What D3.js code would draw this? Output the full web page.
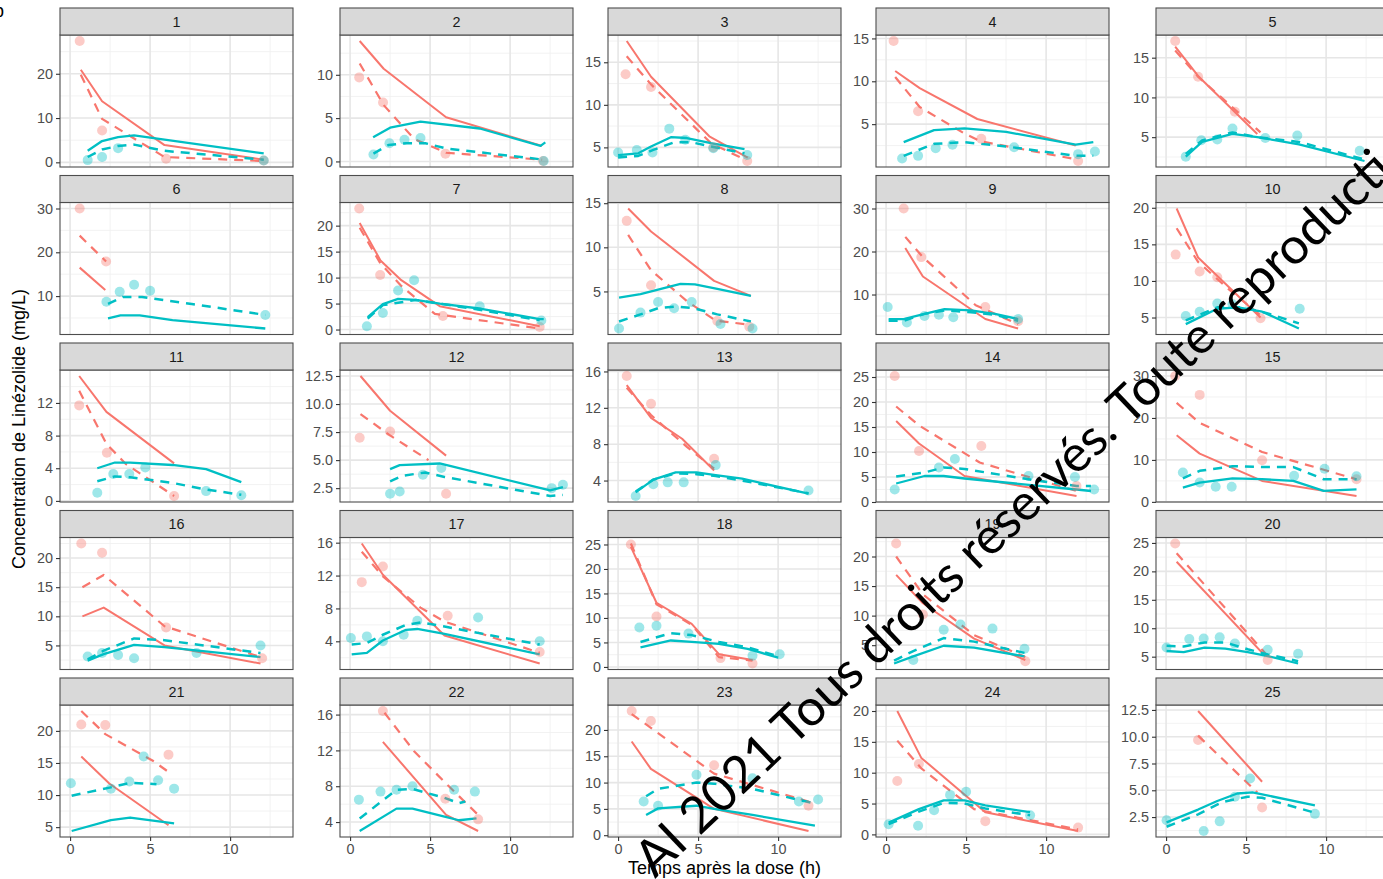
<!DOCTYPE html>
<html>
<head>
<meta charset="utf-8">
<script src="https://cdn.jsdelivr.net/npm/d3@7"></script>
<style>
  body { margin: 0; background: #fff; overflow: hidden; }
  svg { display: block; }
</style>
</head>
<body>
<svg id="chart" width="1383" height="879"></svg>
<script>
// Patient panels 1..25
const panelIds = d3.range(1, 26);

// Y tick labels per panel (free y scales)
const yTicks = [
  [0, 10, 20], [0, 5, 10], [5, 10, 15], [5, 10, 15], [5, 10, 15],
  [10, 20, 30], [0, 5, 10, 15, 20], [5, 10, 15], [10, 20, 30], [5, 10, 15, 20],
  [0, 4, 8, 12], [2.5, 5.0, 7.5, 10.0, 12.5], [4, 8, 12, 16], [0, 5, 10, 15, 20, 25], [0, 10, 20, 30],
  [5, 10, 15, 20], [4, 8, 12, 16], [0, 5, 10, 15, 20, 25], [5, 10, 15, 20], [5, 10, 15, 20, 25],
  [5, 10, 15, 20], [4, 8, 12, 16], [0, 5, 10, 15, 20], [0, 5, 10, 15, 20], [2.5, 5.0, 7.5, 10.0, 12.5]
];

// Shared time axis ticks (h)
const xTicks = [0, 5, 10];
const xDomain = [-0.63, 13.93];

// Series A (red): observed concentrations [time, mg/L]
const obsA = [
  [[0.6,27.4],[2.0,7.2],[6.0,0.8],[12.1,0.4]],
  [[0.57,9.7],[2.06,6.8],[5.96,0.9],[12.06,0.05]],
  [[0.47,13.6],[2.06,12.1],[5.95,5.0],[8.07,3.4]],
  [[0.47,14.7],[2.0,6.5],[5.95,3.3],[12.0,0.7]],
  [[0.57,17.1],[2.0,12.6],[4.3,8.2]],
  [[0.6,30.0],[2.25,17.9]],
  [[0.57,23.3],[1.88,10.5],[5.8,2.6],[11.85,0.5]],
  [[0.54,13.0],[2.06,5.7],[6.2,1.65],[8.2,1.0]],
  [[1.1,30.0],[2.2,18.7],[6.2,7.1],[8.25,3.8]],
  [[0.6,13.6],[2.1,11.3],[3.2,10.5],[5.9,4.9]],
  [[0.57,11.7],[2.3,5.9],[6.5,0.6]],
  [[0.6,7.0],[2.5,7.55],[6.0,2.0]],
  [[0.54,15.5],[2.06,12.45],[6.0,6.4]],
  [[0.54,25.2],[2.06,10.2],[5.95,11.2],[11.9,3.2]],
  [[0.57,30.0],[2.1,25.5],[6.0,9.9],[11.9,5.4]],
  [[0.7,22.5],[2.0,20.9],[6.0,8.1],[12.0,2.8]],
  [[0.73,11.2],[2.05,13.1],[6.1,7.1],[11.85,2.7]],
  [[0.8,25.0],[2.4,10.3],[6.4,1.8],[8.4,0.7]],
  [[0.63,22.2],[2.3,10.2],[8.7,2.3]],
  [[0.57,24.9],[6.35,4.4]],
  [[0.7,21.0],[2.2,20.9],[6.15,16.3]],
  [[2.05,16.4],[5.95,6.6],[8.0,4.3]],
  [[0.85,23.6],[2.05,21.7],[6.0,13.3],[11.9,5.6]],
  [[0.7,8.65],[2.05,11.4],[6.2,2.15],[12.0,1.1]],
  [[2.0,9.7],[6.0,3.4]]
];

// Series A (red): solid model curve
const fitA = [
  [[0.67,20.9],[2.0,13.8],[5.9,3.9],[12.1,0.6]],
  [[0.6,13.9],[2.1,10.7],[6.0,5.1],[12.0,1.8]],
  [[0.54,17.5],[2.06,13.3],[5.7,6.3],[8.1,3.8]],
  [[0.57,11.2],[2.1,9.2],[5.7,5.6],[11.85,2.5]],
  [[0.57,16.4],[2.0,12.7],[5.7,5.4]],
  [[0.6,16.5],[2.2,11.4]],
  [[0.6,20.5],[1.9,13.3],[3.2,9.5],[5.6,4.5],[11.85,0.65]],
  [[0.63,14.4],[2.06,11.8],[6.0,6.2],[8.3,4.5]],
  [[1.2,20.8],[2.3,14.2],[6.2,4.3],[8.25,2.1]],
  [[0.66,19.9],[2.0,13.2],[4.0,9.0],[5.9,5.0]],
  [[0.57,15.3],[2.27,10.9],[6.5,4.6]],
  [[0.65,12.5],[2.5,9.4],[6.0,5.4]],
  [[0.54,14.5],[2.06,10.9],[4.0,8.6],[6.0,5.1]],
  [[0.63,16.2],[2.06,11.7],[4.9,5.2],[11.9,1.2]],
  [[0.66,15.9],[2.1,11.5],[6.0,5.0],[11.9,1.4]],
  [[0.77,10.0],[2.1,11.5],[5.9,5.0],[11.9,1.9]],
  [[0.73,15.9],[2.05,12.1],[5.9,4.7],[11.85,1.3]],
  [[0.8,24.5],[2.4,13.1],[4.6,8.8],[6.3,2.6],[8.4,1.4]],
  [[0.63,16.9],[2.3,12.1],[5.5,6.1],[8.7,2.5]],
  [[0.66,21.7],[6.2,5.1]],
  [[0.7,16.0],[2.45,11.8],[6.15,5.3]],
  [[2.05,12.95],[6.0,4.8],[8.0,3.0]],
  [[0.85,17.8],[2.05,12.6],[4.6,7.7],[6.0,5.0],[11.9,0.8]],
  [[0.7,20.0],[2.2,12.4],[6.2,3.6],[12.0,0.55]],
  [[2.0,12.4],[6.0,5.8]]
];

// Series A (red): dashed model curve
const fitA2 = [
  [[0.67,19.8],[2.0,9.8],[5.9,1.2],[12.1,0.3]],
  [[0.6,11.3],[2.1,6.5],[4.0,2.6],[6.0,1.0],[12.0,0.2]],
  [[0.54,15.7],[2.06,12.4],[5.8,5.5],[8.0,3.5]],
  [[0.57,10.5],[2.1,7.0],[4.9,3.9],[5.9,3.0],[11.85,0.9]],
  [[0.57,15.9],[2.0,12.6],[5.9,5.6]],
  [[0.6,23.8],[2.25,17.9]],
  [[0.6,19.6],[1.9,12.7],[3.2,8.4],[5.3,3.0],[11.85,0.2]],
  [[0.63,11.4],[2.06,7.4],[4.3,3.9],[6.1,1.7],[8.3,1.2]],
  [[1.2,23.4],[2.3,18.7],[5.6,7.5],[8.25,3.1]],
  [[0.66,17.2],[2.0,12.6],[4.0,8.7],[5.9,5.3]],
  [[0.57,13.5],[2.27,7.0],[3.5,4.5],[6.5,0.6]],
  [[0.65,9.1],[2.5,7.2],[4.9,5.0]],
  [[0.54,14.2],[2.06,11.2],[4.3,7.7],[6.0,5.3]],
  [[0.63,19.1],[2.06,15.3],[5.85,7.9],[11.9,2.2]],
  [[0.66,23.6],[2.1,18.8],[6.0,11.9],[11.9,5.4]],
  [[0.77,15.0],[2.1,17.1],[5.9,8.3],[11.9,3.0]],
  [[0.73,14.9],[2.05,11.9],[4.4,8.1],[5.9,6.4],[11.85,2.6]],
  [[0.8,25.2],[2.4,12.8],[4.6,8.6],[6.3,2.0],[8.4,1.3]],
  [[0.63,20.0],[2.3,13.6],[5.5,6.7],[8.7,3.0]],
  [[0.66,23.2],[6.35,5.1]],
  [[0.7,23.1],[2.2,19.5],[5.2,15.3],[6.15,13.6]],
  [[2.15,16.2],[4.0,11.9],[6.0,8.3],[8.0,4.8]],
  [[0.85,23.0],[2.05,20.4],[6.0,11.7],[11.9,6.4]],
  [[0.7,15.2],[2.2,10.7],[5.5,4.1],[12.0,0.8]],
  [[2.0,10.1],[5.7,4.8]]
];

// Series B (cyan): observed concentrations
const obsB = [
  [[1.1,0.5],[2.0,1.2],[3.0,3.2],[12.1,0.4]],
  [[1.46,0.8],[2.46,2.1],[3.4,2.5],[4.4,2.7],[12.1,0.05]],
  [[0.0,4.4],[1.17,4.7],[2.15,4.4],[3.2,7.2],[4.2,5.9],[5.95,4.9],[8.07,4.1]],
  [[1.0,1.0],[2.0,1.3],[3.1,2.2],[4.15,2.6],[8.0,2.3],[12.0,1.5],[13.05,1.8]],
  [[1.23,2.55],[2.2,4.6],[3.2,4.7],[4.15,6.1],[6.2,4.9],[8.2,5.2],[12.1,3.3]],
  [[2.27,8.7],[3.1,11.0],[4.0,12.6],[5.0,11.2],[12.2,5.7]],
  [[1.05,0.65],[2.05,3.2],[3.0,7.5],[4.0,9.5],[8.1,4.5],[11.95,1.75]],
  [[0.06,0.8],[1.4,2.6],[2.5,3.8],[3.5,3.1],[4.6,3.8],[6.4,1.3],[8.4,0.8]],
  [[0.1,7.1],[1.3,3.5],[2.4,5.0],[3.3,5.3],[4.2,4.7],[8.25,4.3]],
  [[1.23,5.2],[2.1,5.8],[3.2,6.9],[4.15,6.8],[8.35,6.2]],
  [[1.7,1.0],[2.7,3.3],[3.7,3.3],[4.7,4.1],[8.5,1.2],[10.7,0.7]],
  [[2.5,2.0],[3.1,2.2],[4.55,3.7],[5.7,4.3],[12.6,2.5],[13.3,2.8]],
  [[1.1,2.3],[2.2,3.6],[3.1,3.8],[4.1,3.8],[6.1,5.7],[11.9,2.9]],
  [[0.54,2.5],[3.3,6.9],[4.3,8.6],[8.9,5.2],[11.8,5.0],[13.0,2.5]],
  [[1.05,7.0],[2.1,4.6],[3.1,3.6],[4.1,3.6],[8.0,6.2],[9.9,7.9],[11.9,6.1]],
  [[1.1,3.1],[2.0,3.7],[3.0,3.35],[4.0,2.8],[7.9,3.7],[11.9,5.0]],
  [[0.05,4.4],[1.05,4.6],[2.05,4.0],[3.35,4.8],[4.2,6.5],[8.0,6.9],[11.85,4.0]],
  [[1.33,8.05],[2.4,8.4],[4.4,6.8],[8.4,2.3],[10.1,2.6]],
  [[1.7,2.5],[3.6,7.6],[4.65,8.5],[6.65,7.8],[8.65,4.4]],
  [[0.03,6.6],[1.45,8.1],[2.35,8.2],[3.35,8.4],[4.3,7.3],[6.35,6.2],[8.25,5.5]],
  [[0.05,11.85],[2.55,11.0],[3.7,12.1],[4.6,16.0],[5.5,12.3],[6.5,11.0]],
  [[0.55,6.5],[1.9,7.4],[2.9,7.6],[3.9,8.0],[6.5,7.6],[7.8,7.4]],
  [[1.6,6.4],[2.5,5.6],[4.9,11.5],[8.4,10.8],[11.3,6.4],[12.5,6.8]],
  [[0.16,1.65],[2.0,1.4],[3.0,3.9],[4.0,6.4],[5.0,6.9],[9.0,3.1]],
  [[0.03,2.2],[2.35,1.2],[3.35,2.1],[4.3,4.4],[5.25,6.1],[9.3,2.8]]
];

// Series B (cyan): solid model curve
const fitB = [
  [[1.1,2.6],[2.0,4.8],[3.0,5.7],[4.0,6.1],[12.1,2.0]],
  [[1.44,2.8],[2.5,3.9],[4.4,4.6],[8.1,3.8],[11.9,1.8],[12.2,2.2]],
  [[0.0,4.1],[1.26,4.3],[2.06,5.1],[3.3,6.2],[4.3,6.1],[5.8,5.5],[7.9,4.8]],
  [[1.1,2.9],[3.0,4.3],[4.9,4.5],[7.5,4.1],[11.85,2.6],[12.95,2.9]],
  [[1.23,2.55],[2.25,4.4],[4.15,5.4],[5.7,5.0],[8.3,4.1],[12.4,2.0]],
  [[2.37,4.9],[3.15,5.6],[4.35,5.6],[6.4,4.5],[12.2,2.6]],
  [[1.1,2.4],[2.05,4.9],[3.0,5.9],[4.1,5.7],[5.6,5.0],[8.2,4.0],[11.85,2.0],[12.1,2.0]],
  [[0.06,4.3],[1.4,4.7],[3.9,5.85],[4.8,5.8],[6.2,5.3],[8.3,4.5]],
  [[0.16,4.3],[1.1,4.3],[2.4,5.5],[3.65,6.6],[5.3,6.3],[6.8,5.5],[8.25,4.3]],
  [[1.23,4.1],[3.2,6.2],[4.5,6.4],[6.0,5.8],[8.3,3.5]],
  [[1.7,4.0],[2.8,4.7],[3.75,4.7],[6.4,4.4],[8.5,3.9],[10.7,2.3]],
  [[2.5,4.2],[3.1,4.55],[5.6,4.7],[12.5,2.3],[13.3,2.6]],
  [[1.1,2.7],[2.2,4.1],[3.6,4.9],[4.9,4.9],[6.1,4.6],[7.75,4.2],[11.9,2.55]],
  [[0.63,3.7],[2.4,5.2],[3.6,5.2],[4.9,4.7],[11.9,2.5],[12.8,2.2]],
  [[1.05,3.4],[2.1,4.6],[4.15,5.6],[6.0,5.4],[7.95,5.0],[9.85,2.6],[11.9,3.0]],
  [[1.1,2.4],[2.1,3.5],[4.0,5.1],[5.9,4.7],[11.9,3.0]],
  [[0.1,2.4],[1.05,2.6],[2.05,4.1],[3.5,5.4],[4.2,5.5],[5.9,4.9],[11.85,2.4]],
  [[1.4,4.0],[3.3,5.4],[4.6,5.1],[6.3,4.7],[8.1,3.7],[10.0,1.9]],
  [[0.5,1.9],[1.7,3.1],[3.6,4.9],[5.5,4.6],[8.65,3.1]],
  [[0.03,6.0],[1.1,5.8],[2.4,6.6],[3.7,6.4],[5.1,5.8],[6.35,5.1],[8.25,3.8]],
  [[0.1,4.4],[2.55,6.1],[3.75,6.5],[6.5,5.6]],
  [[0.6,3.0],[2.9,5.5],[3.9,5.5],[5.9,4.6],[6.8,4.2],[7.9,4.4]],
  [[1.75,3.85],[2.5,5.1],[4.9,5.6],[6.0,5.0],[8.4,3.85],[12.3,1.8]],
  [[0.16,1.9],[2.05,4.1],[3.6,5.5],[4.9,5.5],[6.2,4.7],[9.0,3.6]],
  [[0.03,2.0],[2.0,3.2],[3.2,4.0],[4.45,4.7],[5.4,4.8],[9.3,3.6]]
];

// Series B (cyan): dashed model curve
const fitB2 = [
  [[1.1,1.2],[2.0,2.9],[3.0,3.7],[4.0,4.0],[5.9,2.6],[12.1,0.6]],
  [[1.46,0.9],[2.4,1.9],[3.5,2.1],[4.7,2.1],[6.0,1.5],[12.1,0.2]],
  [[0.0,3.8],[1.26,4.0],[2.2,4.7],[3.5,5.6],[4.6,5.6],[5.8,5.1],[7.9,4.3]],
  [[1.1,1.3],[3.0,2.7],[4.9,2.9],[7.5,2.4],[11.85,1.3],[12.95,1.3]],
  [[1.23,2.9],[2.25,4.6],[4.15,5.6],[5.7,5.0],[8.3,4.4],[12.4,2.2]],
  [[2.37,8.2],[3.3,9.8],[4.5,9.8],[7.6,8.2],[12.2,5.7]],
  [[1.1,2.1],[2.05,4.7],[4.1,5.7],[8.1,3.8],[11.85,1.8]],
  [[0.06,1.6],[1.4,2.4],[2.5,3.1],[3.6,3.3],[4.7,3.1],[6.2,2.4],[8.3,1.6]],
  [[0.16,3.9],[1.1,3.9],[2.4,5.5],[3.65,6.3],[5.3,5.9],[6.8,5.3],[8.25,3.9]],
  [[1.23,4.6],[3.2,6.4],[4.8,6.4],[6.3,5.6],[8.3,4.2]],
  [[1.7,2.4],[2.8,3.0],[3.75,2.9],[6.4,2.2],[8.5,1.4],[10.7,0.75]],
  [[2.5,3.1],[3.25,3.6],[4.7,3.9],[5.9,3.5],[12.5,1.8],[13.3,1.9]],
  [[1.1,2.8],[2.2,4.1],[3.6,4.8],[4.9,4.7],[6.1,4.5],[7.75,4.0],[11.9,2.6]],
  [[0.63,5.1],[2.4,5.9],[3.6,6.9],[4.9,6.6],[9.0,4.5],[11.9,3.2],[12.8,3.2]],
  [[1.05,5.6],[2.1,7.4],[4.15,8.5],[6.0,8.3],[7.95,8.3],[9.85,5.4],[11.9,5.4]],
  [[1.1,2.6],[2.1,4.1],[4.0,6.2],[5.9,5.9],[11.9,3.7]],
  [[0.1,3.6],[1.05,3.8],[2.05,4.8],[3.5,6.0],[4.4,6.3],[5.9,5.8],[11.85,3.6]],
  [[1.4,5.1],[3.3,6.9],[4.6,6.5],[6.3,5.1],[8.1,4.0],[10.0,2.2]],
  [[0.5,2.4],[1.7,4.0],[3.6,6.2],[5.5,5.6],[8.65,3.7]],
  [[0.03,6.9],[1.1,6.8],[2.4,7.5],[3.7,7.5],[5.1,6.3],[6.35,5.4],[8.25,4.2]],
  [[0.1,9.9],[2.55,11.2],[3.75,11.9],[5.4,11.7]],
  [[0.6,4.4],[2.9,7.6],[3.9,7.7],[5.9,6.7],[6.8,6.1],[7.2,6.3]],
  [[1.75,7.4],[2.5,8.8],[4.9,10.0],[6.0,9.8],[8.4,8.8],[12.3,6.0]],
  [[0.16,1.65],[2.05,3.7],[3.6,5.1],[4.9,5.0],[6.2,4.2],[9.0,3.1]],
  [[0.03,1.6],[2.0,2.75],[3.5,3.9],[5.1,4.4],[6.0,4.3],[9.3,2.9]]
];

// ---- layout ----
const colLeft = [60, 340, 608, 876, 1156];
const panelW = 233, panelH = 132, stripH = 27;
const rowTop = [8, 175.5, 343, 510.5, 678];
const RED = "#F8766D", CYAN = "#00BFC4";
const FONT = "'Liberation Sans', Arial, sans-serif";

const svg = d3.select("#chart");
svg.append("rect").attr("width", 1383).attr("height", 879).attr("fill", "#fff");

const line = (xs, ys) => d3.line().x(d => xs(d[0])).y(d => ys(d[1]));

panelIds.forEach((id, i) => {
  const col = i % 5, row = Math.floor(i / 5);
  const left = colLeft[col];
  const top = rowTop[row] + stripH;
  const g = svg.append("g");

  const x = d3.scaleLinear().domain(xDomain).range([left, left + panelW]);

  const all = [obsA[i], fitA[i], fitA2[i], obsB[i], fitB[i], fitB2[i]].flat();
  const [lo, hi] = d3.extent(all, d => d[1]);
  const pad = (hi - lo) * 0.05;
  const y = d3.scaleLinear().domain([lo - pad, hi + pad]).range([top + panelH, top]);

  // panel background
  g.append("rect").attr("x", left).attr("y", top).attr("width", panelW).attr("height", panelH)
    .attr("fill", "#fff");

  // minor grid
  const yt = yTicks[i];
  const step = yt[1] - yt[0];
  const ext = [yt[0] - step, ...yt, yt[yt.length - 1] + step];
  const yMinor = d3.pairs(ext).map(([a, b]) => (a + b) / 2)
    .filter(v => v >= y.domain()[0] && v <= y.domain()[1]);
  const xExt = [-5, ...xTicks, 15];
  const xMinor = d3.pairs(xExt).map(([a, b]) => (a + b) / 2)
    .filter(v => v >= xDomain[0] && v <= xDomain[1]);

  g.selectAll(".ymin").data(yMinor).join("line")
    .attr("x1", left).attr("x2", left + panelW)
    .attr("y1", d => y(d)).attr("y2", d => y(d))
    .attr("stroke", "#F0F0F0").attr("stroke-width", 0.9);
  g.selectAll(".xmin").data(xMinor).join("line")
    .attr("y1", top).attr("y2", top + panelH)
    .attr("x1", d => x(d)).attr("x2", d => x(d))
    .attr("stroke", "#F0F0F0").attr("stroke-width", 0.9);
  // major grid
  g.selectAll(".ymaj").data(yt).join("line")
    .attr("x1", left).attr("x2", left + panelW)
    .attr("y1", d => y(d)).attr("y2", d => y(d))
    .attr("stroke", "#E6E6E6").attr("stroke-width", 1.6);
  g.selectAll(".xmaj").data(xTicks).join("line")
    .attr("y1", top).attr("y2", top + panelH)
    .attr("x1", d => x(d)).attr("x2", d => x(d))
    .attr("stroke", "#E6E6E6").attr("stroke-width", 1.6);

  // model curves
  const curves = [
    { data: fitA[i], color: RED, dash: null, w: 2.0 },
    { data: fitA2[i], color: RED, dash: "9,7", w: 2.2 },
    { data: fitB[i], color: CYAN, dash: null, w: 2.3 },
    { data: fitB2[i], color: CYAN, dash: "9,7", w: 2.5 }
  ];
  curves.forEach(c => {
    g.append("path").datum(c.data).attr("d", line(x, y))
      .attr("fill", "none").attr("stroke", c.color).attr("stroke-width", c.w)
      .attr("stroke-dasharray", c.dash).attr("stroke-linejoin", "round");
  });

  // observations
  [[obsA[i], RED], [obsB[i], CYAN]].forEach(([pts, color]) => {
    g.selectAll(null).data(pts).join("circle")
      .attr("cx", d => x(d[0])).attr("cy", d => y(d[1])).attr("r", 5)
      .attr("fill", color).attr("fill-opacity", 0.38);
  });

  // panel border
  g.append("rect").attr("x", left).attr("y", top).attr("width", panelW).attr("height", panelH)
    .attr("fill", "none").attr("stroke", "#4D4D4D").attr("stroke-width", 1.1);

  // strip
  g.append("rect").attr("x", left).attr("y", rowTop[row]).attr("width", panelW).attr("height", stripH)
    .attr("fill", "#D9D9D9").attr("stroke", "#4D4D4D").attr("stroke-width", 1.1);
  g.append("text").attr("x", left + panelW / 2).attr("y", rowTop[row] + stripH / 2 + 5)
    .attr("text-anchor", "middle").attr("font-family", FONT).attr("font-size", 14.4)
    .attr("fill", "#1A1A1A").text(id);

  // y axis
  const fmt = yt.some(v => !Number.isInteger(v)) ? d3.format(".1f") : d3.format("d");
  const yAxis = d3.axisLeft(y).tickValues(yt).tickFormat(fmt).tickSize(4).tickPadding(3);
  const ag = g.append("g").attr("transform", `translate(${left},0)`).call(yAxis);
  ag.select(".domain").remove();
  ag.selectAll(".tick line").attr("stroke", "#333").attr("stroke-width", 1.1);
  ag.selectAll(".tick text").attr("font-family", FONT).attr("font-size", 14.4).attr("fill", "#4D4D4D");

  // x axis on bottom row
  if (row === 4) {
    const xAxis = d3.axisBottom(x).tickValues(xTicks).tickFormat(d3.format("d")).tickSize(4).tickPadding(3);
    const xg = g.append("g").attr("transform", `translate(0,${top + panelH})`).call(xAxis);
    xg.select(".domain").remove();
    xg.selectAll(".tick line").attr("stroke", "#333").attr("stroke-width", 1.1);
    xg.selectAll(".tick text").attr("font-family", FONT).attr("font-size", 14.4).attr("fill", "#4D4D4D");
  }
});

// axis titles
svg.append("text")
  .attr("transform", "translate(25,429) rotate(-90)")
  .attr("text-anchor", "middle").attr("font-family", FONT).attr("font-size", 18)
  .attr("fill", "#000").text("Concentration de Linézolide (mg/L)");
svg.append("text")
  .attr("x", (colLeft[0] + colLeft[4] + panelW) / 2).attr("y", 874)
  .attr("text-anchor", "middle").attr("font-family", FONT).attr("font-size", 18)
  .attr("fill", "#000").text("Temps après la dose (h)");

// figure tag
svg.append("text").attr("x", 4).attr("y", 17).attr("text-anchor", "end")
  .attr("font-family", FONT).attr("font-size", 18).attr("fill", "#000").text("b");

// copyright overlay, laid along a diagonal baseline
const wmText = "AI 2021 Tous droits réservés. Toute reproduction interdite";
const wm = svg.append("text").attr("font-family", "Lato, 'Open Sans', sans-serif")
  .attr("font-size", 100).attr("fill", "#000").text(wmText);
const iA = 0, iEnd = wmText.indexOf("reproducti") + "reproducti".length - 1;
const p0 = [655, 879], p1 = [1395, 172];
const span = Math.hypot(p1[0] - p0[0], p1[1] - p0[1]);
const ang = Math.atan2(p1[1] - p0[1], p1[0] - p0[0]) * 180 / Math.PI;
const n = wm.node();
const len100 = n.getEndPositionOfChar(iEnd).x - n.getStartPositionOfChar(iA).x;
wm.attr("font-size", 100 * span / len100);
const sA = n.getStartPositionOfChar(iA).x;
wm.attr("x", -sA).attr("y", 0)
  .attr("transform", `translate(${p0[0]},${p0[1]}) rotate(${ang})`);
</script>
</body>
</html>
